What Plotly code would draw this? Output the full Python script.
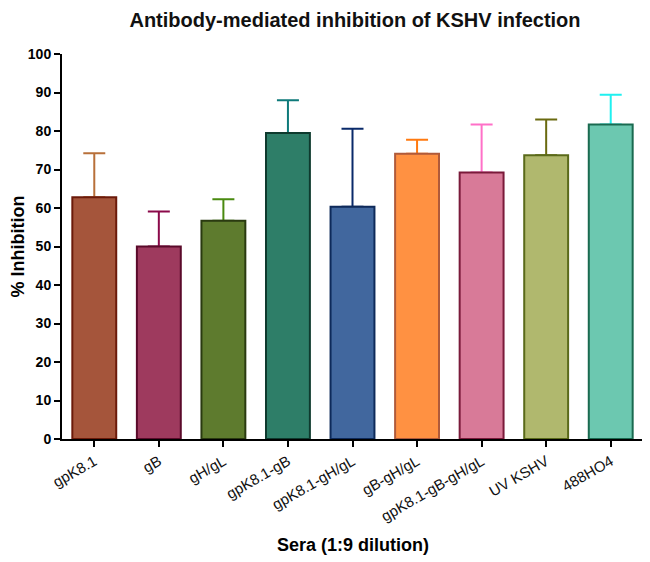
import plotly.graph_objects as go

categories = ["gpK8.1", "gB", "gH/gL", "gpK8.1-gB", "gpK8.1-gH/gL",
              "gB-gH/gL", "gpK8.1-gB-gH/gL", "UV KSHV", "488HO4"]
means = [62.8, 50.0, 56.7, 79.5, 60.3, 74.1, 69.2, 73.7, 81.7]
err_top = [74.2, 59.1, 62.3, 88.0, 80.6, 77.7, 81.7, 83.0, 89.4]
errors = [t - m for t, m in zip(err_top, means)]

fill_colors = ["#A5553B", "#9E3A5E", "#5E7B2E", "#2E7E68", "#41679E",
               "#FF9142", "#D87A98", "#B0B86E", "#6CC8B0"]
edge_colors = ["#6B1A0A", "#5A0A2A", "#2A3A10", "#0E3A2E", "#0E2A5A",
               "#B05A3A", "#7A1A3A", "#5A6A1A", "#1A6A50"]
err_colors = ["#B8703A", "#8B0A4A", "#4A8A10", "#0E7A7A", "#0A2A6A",
              "#FF7A10", "#FF70C8", "#6A6A10", "#20F0F0"]

FONT = "Liberation Sans, Arial, sans-serif"
BAR_W = 0.68

fig = go.Figure()
# error bars first (one-sided, upper), so the bars' outlines cover the lower caps
for i, cat in enumerate(categories):
    fig.add_trace(go.Bar(
        x=[cat], y=[means[i]], width=BAR_W,
        marker=dict(color="rgba(0,0,0,0)", line=dict(width=0)),
        error_y=dict(type="data", array=[errors[i]], arrayminus=[0], symmetric=False,
                     color=err_colors[i], thickness=2, width=11),
        showlegend=False, hoverinfo="skip",
    ))
fig.add_trace(go.Bar(
    x=categories, y=means, width=BAR_W,
    marker=dict(color=fill_colors, line=dict(color=edge_colors, width=2)),
    showlegend=False,
))

W, H = 642, 554  # page body has an 8px margin
fig.update_layout(
    barmode="overlay",
    width=W, height=H,
    paper_bgcolor="white", plot_bgcolor="white",
    margin=dict(l=54, r=7, t=46, b=123, autoexpand=False),
    font=dict(family=FONT, color="black"),
    title=dict(text="<b>Antibody-mediated inhibition of KSHV infection</b>",
               x=347 / W, xanchor="center", y=1 - 12 / H, yanchor="middle",
               font=dict(size=20, color="#111111")),
    xaxis=dict(
        range=[-0.5, 8.5], showline=True, linewidth=2, linecolor="black",
        ticks="outside", ticklen=6, tickwidth=2, tickcolor="black",
        tickangle=-30, tickfont=dict(size=15, color="#111111"),
        showgrid=False, zeroline=False, automargin=False,
    ),
    yaxis=dict(
        range=[0, 100], dtick=10, showline=True, linewidth=2, linecolor="black",
        ticks="outside", ticklen=6, tickwidth=2, tickcolor="black",
        tickfont=dict(size=14, family=FONT),
        tickprefix="<b>", ticksuffix="</b>",
        showgrid=False, zeroline=False, automargin=False,
    ),
    annotations=[
        dict(text="<b>Sera (1:9 dilution)</b>", xref="paper", yref="paper",
             x=0.5, y=(439 - 545) / 385, xanchor="center", yanchor="middle",
             showarrow=False, font=dict(size=18)),
        dict(text="<b>% Inhibition</b>", xref="paper", yref="paper",
             x=(17 - 62) / 581, y=0.5, xanchor="center", yanchor="middle",
             textangle=-90, showarrow=False, font=dict(size=18)),
    ],
)

fig.write_html("out.html")
